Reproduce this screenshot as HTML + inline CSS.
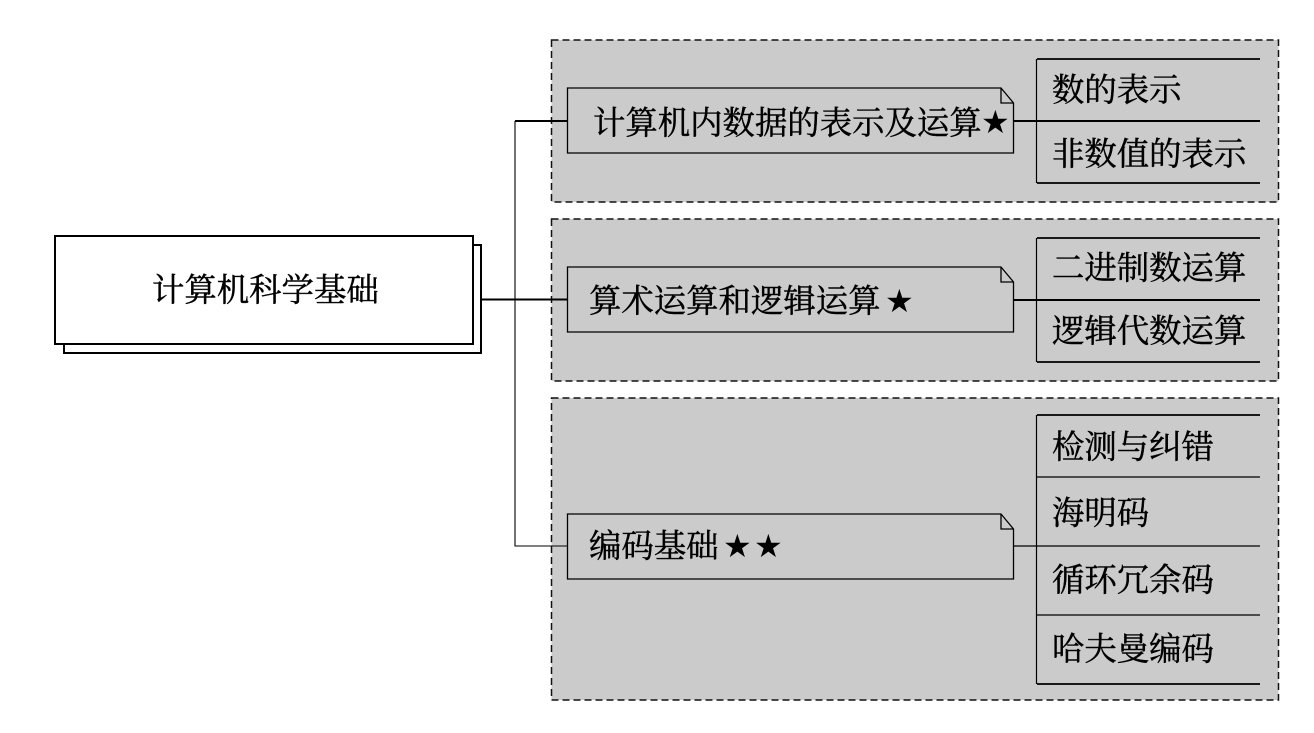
<!DOCTYPE html>
<html><head><meta charset="utf-8"><style>
html,body{margin:0;padding:0;background:#fff}
svg{display:block}
text{font-family:"Liberation Serif","Noto Serif CJK SC",serif;font-size:32.4px;fill:#000;stroke:#000;stroke-width:.45px}
text.s{font-family:"DejaVu Sans",sans-serif;font-size:32px;stroke:none}
</style></head><body>
<svg width="1314" height="733" viewBox="0 0 1314 733" xmlns="http://www.w3.org/2000/svg">
<g fill="#cbcbcb" stroke="#111" stroke-width="1.5" stroke-dasharray="7 4">
<rect x="551.5" y="40" width="727" height="162"/>
<rect x="551.5" y="219" width="727" height="162"/>
<rect x="551.5" y="398" width="727" height="302"/>
</g>
<rect x="64" y="245" width="417" height="108" fill="#fff" stroke="#000" stroke-width="2"/>
<rect x="55" y="236" width="418" height="108" fill="#fff" stroke="#000" stroke-width="2"/>
<g stroke="#000" fill="none">
<path d="M482 299.5H567M515 121H567" stroke-width="1.9"/>
<path d="M515 121V546H567" stroke-width="1.1"/>
<path d="M1013 121H1260M1013 300H1260" stroke-width="2"/>
<path d="M1013 546H1260M1037 615H1260M1037 477H1260" stroke-width="1.2"/>
<path d="M1036.5 59V183M1036.5 238V362M1036.5 415V684" stroke-width="1.2"/>
<path d="M1037 59H1260M1037 183H1260M1037 238H1260M1037 362H1260M1037 415H1260M1037 684H1260" stroke-width="1.8"/>
</g>
<g fill="#cbcbcb" stroke="#000" stroke-width="1.3">
<path d="M567.5 88H1001L1013.5 103V153H567.5Z"/>
<path d="M1001 88V103H1013.5" fill="none"/>
<path d="M567.5 267H1001L1013.5 282V332H567.5Z"/>
<path d="M1001 267V282H1013.5" fill="none"/>
<path d="M567.5 514H1001L1013.5 529V579H567.5Z"/>
<path d="M1001 514V529H1013.5" fill="none"/>
</g>
<text x="152" y="301">计算机科学基础</text>
<text x="593" y="134">计算机内数据的表示及运算</text><text class="s" x="981" y="133">★</text>
<text x="589" y="312">算术运算和逻辑运算</text><text class="s" x="885" y="312">★</text>
<text x="589" y="557">编码基础</text><text class="s" x="723" y="557">★</text><text class="s" x="754" y="557">★</text>
<text x="1052" y="101">数的表示</text>
<text x="1052" y="165">非数值的表示</text>
<text x="1052" y="279">二进制数运算</text>
<text x="1052" y="342">逻辑代数运算</text>
<text x="1052" y="458">检测与纠错</text>
<text x="1052" y="524">海明码</text>
<text x="1052" y="591">循环冗余码</text>
<text x="1052" y="660">哈夫曼编码</text>
</svg>
</body></html>
